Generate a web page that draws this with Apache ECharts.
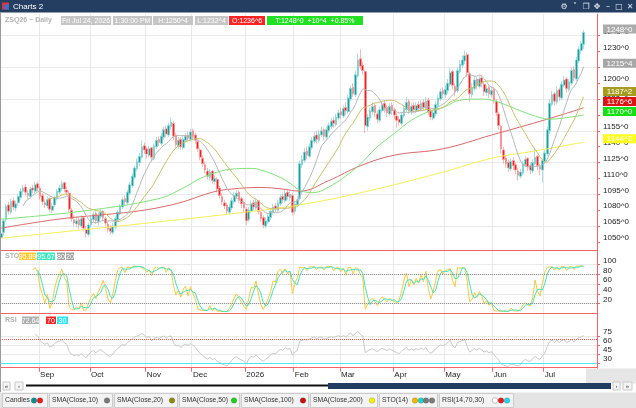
<!DOCTYPE html>
<html>
<head>
<meta charset="utf-8">
<script src="https://cdn.jsdelivr.net/npm/echarts@6/dist/echarts.min.js"></script>
<style>
  html, body { margin: 0; padding: 0; background: #fff; }
  #main { width: 636px; height: 408px; }
</style>
</head>
<body>
<div id="main"></div>
<script>
// ZSQ26 daily bars, Fri Aug 8 2025 .. Fri Jul 24 2026
var opens = [
  1054,1059,1071,1085,1078,1089,1082,1087,1092,1098,1102,1096,1093,1101,1098,1105,
  1101,1094,1087,1084,1091,1080,1085,1091,1097,1100,1106,1099,1096,1080,1071,1067,1071,1065,1073,1062,1057,
  1066,1071,1077,1069,1074,1079,1072,1067,1063,1059,1064,1071,1077,1083,1091,1087,1096,1103,1111,1119,1125,1130,1141,
  1138,1132,1139,1129,1140,1147,1143,1149,1157,1151,1159,1162,1151,1141,1147,1139,1146,1151,1147,
  1155,1151,1145,1137,1129,1123,1117,1111,1117,1107,1109,1101,1093,1087,1085,1078,1082,1088,1093,1097,1091,1087,
  1081,1071,1079,1087,1082,1089,1078,1073,1065,1069,1073,1078,1084,1080,1086,1093,1089,1097,1092,1094,
  1079,1085,1091,1123,1127,1136,1131,1139,1145,1151,1146,1151,1156,1149,1155,1159,1165,1161,1167,
  1173,1169,1177,1173,1185,1196,1189,1207,1223,1217,1211,1159,1167,1173,1179,1171,1165,1174,1181,1177,1171,1179,
  1175,1169,1166,1162,1169,1175,1183,1173,1179,1174,1180,1175,1182,1176,1184,1174,1167,1171,1179,1185,1193,
  1189,1193,1199,1211,1197,1193,1211,1217,1221,1227,1209,1189,1195,1204,1197,1205,1199,1191,1196,1189,
  1194,1183,1171,1159,1137,1129,1125,1119,1127,1123,1117,1112,1115,1123,1129,1122,1117,1124,1131,1121,1118,
  1126,1133,1155,1180,1190,1182,1194,1186,1198,1204,1194,1200,1213,1204,1221,1231,1236.75
];
var highs = [
  1061,1072,1086,1088,1091,1092,1089,1095,1101,1104,1105,1099,1102,1104,1107,1107,
  1103,1096,1090,1093,1092,1087,1094,1100,1104,1108,1107,1102,1098,1082,1075,1074,1073,1075,1074,1065,1068,
  1075,1079,1079,1078,1081,1080,1074,1069,1066,1068,1074,1080,1086,1092,1094,1099,1107,1115,1122,1129,1134,1146,1144,
  1140,1141,1140,1143,1149,1150,1153,1159,1160,1163,1168,1164,1153,1149,1149,1150,1153,1154,1157,
  1157,1153,1147,1139,1132,1126,1120,1119,1118,1113,1111,1103,1096,1090,1087,1086,1092,1097,1099,1099,1093,1089,
  1083,1083,1089,1090,1091,1090,1080,1075,1073,1077,1082,1086,1087,1090,1095,1096,1099,1100,1098,1096,
  1089,1093,1127,1132,1139,1140,1143,1149,1154,1155,1156,1159,1158,1159,1163,1167,1168,1171,1175,
  1177,1179,1182,1189,1198,1200,1212,1228,1232,1220,1213,1171,1177,1182,1181,1174,1178,1183,1184,1179,1181,1182,
  1177,1172,1169,1173,1179,1187,1185,1181,1182,1182,1183,1184,1185,1187,1186,1176,1175,1183,1189,1195,1196,
  1198,1204,1214,1213,1200,1215,1222,1226,1231,1229,1211,1200,1207,1206,1207,1208,1201,1198,1198,1197,
  1196,1185,1173,1161,1140,1132,1128,1129,1130,1125,1120,1119,1127,1131,1130,1125,1128,1139,1132,1124,1129,
  1137,1159,1185,1193,1192,1197,1196,1202,1207,1206,1204,1215,1216,1225,1235,1240,1250.5
];
var lows = [
  1050,1056,1069,1076,1076,1080,1079,1084,1090,1095,1094,1090,1091,1096,1096,1098,
  1090,1085,1082,1082,1078,1077,1083,1089,1095,1098,1097,1094,1078,1069,1065,1064,1062,1063,1060,1054,1055,
  1064,1069,1067,1066,1072,1070,1065,1059,1057,1057,1062,1069,1075,1081,1085,1085,1094,1101,1109,1117,1122,1128,1133,
  1129,1130,1126,1127,1138,1141,1141,1147,1149,1149,1156,1146,1139,1138,1137,1137,1144,1145,1145,
  1147,1143,1135,1127,1121,1115,1109,1108,1105,1104,1097,1091,1085,1081,1076,1076,1080,1086,1091,1087,1082,1078,
  1066,1069,1077,1080,1080,1076,1069,1063,1063,1067,1071,1076,1078,1078,1084,1087,1087,1090,1089,1075,
  1076,1083,1089,1120,1125,1128,1129,1137,1143,1143,1144,1149,1146,1147,1153,1157,1158,1159,1165,
  1166,1167,1170,1171,1183,1187,1187,1205,1213,1208,1153,1155,1164,1170,1168,1162,1163,1172,1172,1168,1169,1170,
  1166,1158,1160,1160,1167,1173,1171,1170,1172,1172,1173,1173,1174,1174,1170,1165,1165,1169,1177,1183,1186,
  1186,1190,1197,1194,1188,1191,1209,1214,1218,1206,1182,1186,1193,1194,1195,1196,1188,1188,1186,1186,
  1181,1169,1156,1134,1124,1120,1116,1117,1118,1114,1108,1110,1113,1121,1117,1114,1115,1122,1118,1113,1106,
  1124,1131,1152,1178,1179,1180,1183,1184,1196,1191,1192,1198,1202,1202,1219,1228,1232.5
];
var closes = [
  1058,1070,1084,1079,1088,1083,1086,1093,1098,1101,1097,1094,1100,1099,1104,1101,
  1093,1088,1085,1090,1081,1084,1092,1098,1101,1105,1100,1097,1081,1072,1068,1070,1066,1072,1063,1058,1066,
  1072,1076,1070,1075,1078,1073,1068,1062,1060,1065,1072,1078,1084,1090,1088,1097,1104,1112,1120,1126,1131,1140,1137,
  1133,1138,1130,1141,1146,1144,1150,1156,1152,1160,1163,1150,1142,1146,1140,1147,1150,1148,1154,
  1150,1146,1138,1130,1124,1118,1112,1116,1108,1110,1100,1094,1088,1084,1079,1083,1089,1094,1096,1090,1086,1082,
  1070,1080,1086,1083,1088,1079,1072,1066,1070,1074,1079,1083,1081,1087,1092,1090,1096,1093,1095,1078,
  1086,1090,1124,1128,1135,1132,1140,1146,1150,1147,1152,1155,1150,1156,1160,1164,1162,1168,1172,
  1170,1176,1174,1186,1195,1190,1208,1222,1216,1212,1160,1168,1174,1178,1172,1166,1175,1180,1176,1172,1178,1174,
  1170,1165,1163,1170,1176,1182,1174,1178,1175,1179,1176,1181,1177,1183,1173,1168,1172,1180,1186,1192,1190,
  1194,1200,1210,1198,1192,1212,1218,1222,1226,1210,1190,1196,1203,1198,1204,1200,1192,1195,1190,1193,
  1184,1172,1160,1138,1128,1124,1120,1126,1122,1118,1113,1116,1124,1128,1121,1118,1125,1130,1122,1119,1127,
  1134,1156,1181,1189,1183,1193,1187,1199,1203,1195,1201.5,1212,1205,1222,1232,1237.5,1248
];

// longer moving averages: [bar index, value]
var sma50Pts = [[0,1071.5],[33,1079],[65,1091],[75,1101],[82,1110],[89,1116],[96,1119],[103,1119.5],[107,1118],
  [114,1112],[119,1105.5],[123,1099],[128,1096.5],[135,1102],[146,1119.5],[155,1140],[162,1152.5],[169,1165],
  [176,1173],[183,1178],[189,1184],[197,1185],[202,1184],[208,1179.5],[215,1173],[222,1167.5],[226,1166],
  [233,1167.5],[240,1170]];
var sma100Pts = [[0,1063],[13,1068],[27,1072.5],[41,1075.5],[54,1078.5],[65,1082.5],[75,1088],[87,1097],[95,1100],
  [107,1101.5],[116,1100],[123,1098],[135,1108],[148,1122],[162,1132],[182,1138],[202,1151],[225,1166],[240,1176.75]];
var sma200Pts = [[0,1053.5],[40,1063],[65,1069],[100,1078],[123,1085],[150,1097.5],[182,1116],[202,1129],
  [220,1136],[240,1144.25]];

var priceTicks = [1050,1065,1080,1095,1110,1125,1140,1155,1170,1185,1200,1215,1230,1245];
var priceGrid = [1065,1095,1125,1155,1185,1215,1245];
var stoTicks = [20,40,60,80,100];
var rsiTicks = [30,45,60,75];
var monthNames = ['Jan','Feb','Mar','Apr','May','Jun','Jul','Aug','Sep','Oct','Nov','Dec'];
var holidays = ['2025-09-01','2025-11-27','2025-12-25','2026-01-01','2026-01-19','2026-02-16',
  '2026-04-03','2026-05-25','2026-06-19','2026-07-03'];
var stoValues = ['95.89', '95.67', '80', '20'];
var rsiValues = ['72.64', '70', '30'];

// trading days
var dates = [];
for (var t = Date.UTC(2025, 7, 8); t <= Date.UTC(2026, 6, 24); t += 864e5) {
  var d = new Date(t), wd = d.getUTCDay(), s = d.toISOString().slice(0, 10);
  if (wd === 0 || wd === 6 || holidays.indexOf(s) >= 0) continue;
  dates.push(s);
}
var n = closes.length;
var cats = dates.slice(0, n).concat(['p1','p2','p3','p4','p5']);

function monthStart(i) {
  return i > 0 && i < n && dates[i].slice(5, 7) !== dates[i - 1].slice(5, 7);
}
function monthLabel(i) {
  var m = +dates[i].slice(5, 7) - 1;
  return m === 0 ? dates[i].slice(0, 4) : monthNames[m];
}

var ohlc = closes.map(function (c, i) { return [opens[i], c, lows[i], highs[i]]; });

function sma(arr, k) {
  return arr.map(function (v, i) {
    if (i < k - 1) return null;
    var s = 0;
    for (var j = i - k + 1; j <= i; j++) s += arr[j];
    return +(s / k).toFixed(2);
  });
}
var sma10 = sma(closes, 10);
var sma20 = sma(closes, 20);

// stochastic 14 (%K) and its 3-bar average (%D)
var stoK = closes.map(function (c, i) {
  if (i < 13) return null;
  var hh = Math.max.apply(null, highs.slice(i - 13, i + 1));
  var ll = Math.min.apply(null, lows.slice(i - 13, i + 1));
  return +(100 * (c - ll) / (hh - ll)).toFixed(2);
});
var stoD = stoK.map(function (v, i) {
  return i < 15 ? null : +((stoK[i] + stoK[i - 1] + stoK[i - 2]) / 3).toFixed(2);
});

// RSI 14, Wilder smoothing
var rsi = [null];
var ag = 0, al = 0;
for (var i = 1; i < n; i++) {
  var ch = closes[i] - closes[i - 1];
  var g = Math.max(ch, 0), l = Math.max(-ch, 0);
  if (i <= 14) {
    ag += g / 14; al += l / 14;
    rsi.push(i === 14 ? +(100 - 100 / (1 + ag / al)).toFixed(2) : null);
  } else {
    ag = (ag * 13 + g) / 14; al = (al * 13 + l) / 14;
    rsi.push(+(100 - 100 / (1 + ag / al)).toFixed(2));
  }
}

var FONT = '"Liberation Sans", Arial, sans-serif';
var RED = '#f36464';
var GRIDC = '#e9e9e9';
var UP = '#14a0a0', DN = '#f41e1e';

function xAx(grid, labels) {
  return {
    type: 'category', gridIndex: grid, data: cats, boundaryGap: true,
    axisLine: { show: true, lineStyle: { color: RED, width: 1 } },
    axisTick: { show: labels, interval: monthStart, length: 4, lineStyle: { color: RED } },
    axisLabel: {
      show: labels, interval: monthStart, formatter: function (v, idx) { return monthLabel(idx); },
      fontSize: 8, color: '#222', fontFamily: FONT, align: 'left', margin: 3
    },
    splitLine: { show: true, interval: monthStart, lineStyle: { color: GRIDC, width: 1 } }
  };
}
function yAx(grid, min, max, ticks, fmt, split) {
  return {
    type: 'value', gridIndex: grid, position: 'right', min: min, max: max,
    axisLine: { show: true, lineStyle: { color: RED, width: 1 } },
    axisTick: { show: true, length: 3, lineStyle: { color: RED }, customValues: ticks },
    axisLabel: {
      customValues: ticks, formatter: fmt, fontSize: 8, color: '#222', fontFamily: FONT,
      verticalAlign: 'bottom', lineHeight: 8, margin: 6
    },
    splitLine: { show: split, lineStyle: { color: GRIDC, width: 1 } }
  };
}

function line(name, data, color, xi, yi, extra) {
  var s = {
    name: name, type: 'line', xAxisIndex: xi, yAxisIndex: yi, data: data,
    showSymbol: false, symbol: 'none', connectNulls: false,
    lineStyle: { color: color, width: 1 }, z: 3, silent: true
  };
  for (var k in extra || {}) s[k] = extra[k];
  return s;
}

var chart = echarts.init(document.getElementById('main'), null, { renderer: 'canvas' });

var option = {
  animation: false,
  backgroundColor: '#fff',
  grid: [
    { left: 0, width: 597, top: 14, height: 236 },
    { left: 0, width: 597, top: 250, height: 63.5 },
    { left: 0, width: 597, top: 313.5, height: 54.2 }
  ],
  xAxis: [xAx(0, false), xAx(1, false), xAx(2, true)],
  yAxis: [
    yAx(0, 1042.4, 1265.4, priceTicks, function (v) { return v + '^0'; }, false),
    {
      type: 'value', gridIndex: 0, position: 'right', min: 1042.4, max: 1265.4,
      axisLine: { show: false }, axisTick: { show: false, customValues: priceGrid },
      axisLabel: { show: false }, splitLine: { show: true, lineStyle: { color: GRIDC, width: 1 } }
    },
    yAx(1, 0, 130, stoTicks, function (v) { return String(v); }, true),
    yAx(2, 22, 112.7, rsiTicks, function (v) { return String(v); }, true)
  ],
  series: [
    {
      name: 'Candles', type: 'candlestick', xAxisIndex: 0, yAxisIndex: 0, data: ohlc,
      barWidth: 2.2, silent: true, z: 2,
      itemStyle: { color: UP, color0: DN, borderColor: '#86d2d2', borderColor0: '#f79a9a', borderWidth: 0.7 }
    },
    line('SMA(Close,200)', sma200Pts, '#f6ef55', 0, 0, { smooth: 0.4 }),
    line('SMA(Close,100)', sma100Pts, '#d96a6a', 0, 0, { smooth: 0.4 }),
    line('SMA(Close,50)', sma50Pts, '#80e27a', 0, 0, { smooth: 0.4 }),
    line('SMA(Close,20)', sma20, '#cbbf6c', 0, 0),
    line('SMA(Close,10)', sma10, '#b7b7b7', 0, 0),
    line('%K', stoK, '#f9c93c', 1, 2, {
      markLine: {
        silent: true, symbol: 'none', label: { show: false },
        lineStyle: { color: '#8f8f8f', type: 'dotted', width: 1 },
        data: [{ yAxis: 80 }, { yAxis: 20 }]
      }
    }),
    line('%D', stoD, '#3fe3bd', 1, 2),
    line('RSI', rsi, '#c8c8c8', 2, 3, {
      markLine: {
        silent: true, symbol: 'none', label: { show: false },
        data: [
          { yAxis: 70, lineStyle: { color: '#ff4d4d', type: 'dotted', width: 1 } },
          { yAxis: 30, lineStyle: { color: '#46e8f2', type: 'solid', width: 1 } }
        ]
      }
    })
  ]
};
chart.setOption(option);

// ---- window chrome, headers, value boxes, scroller, legend ----
var gfx = [];
function rect(x, y, w, h, fill, stroke) {
  gfx.push({ type: 'rect', z: 100, silent: true, shape: { x: x, y: y, width: w, height: h },
    style: { fill: fill, stroke: stroke || null, lineWidth: 1 } });
}
function txt(x, y, s, fill, font, align) {
  gfx.push({ type: 'text', z: 101, silent: true, x: x, y: y,
    style: { text: s, fill: fill, font: font || ('8px ' + FONT), align: align || 'left', verticalAlign: 'middle' } });
}
function tag(x, y, w, h, bg, s, font) {
  rect(x, y, w, h, bg);
  txt(x + w / 2, y + h / 2 + 0.5, s, '#fff', font || ('7px ' + FONT), 'center');
}
function dot(cx, cy, fill, stroke) {
  gfx.push({ type: 'circle', z: 101, silent: true, shape: { cx: cx, cy: cy, r: 2.8 },
    style: { fill: fill, stroke: stroke || 'rgba(0,0,0,0.25)', lineWidth: 0.6 } });
}
function seg(x1, y1, x2, y2, color, w) {
  gfx.push({ type: 'line', z: 100, silent: true, shape: { x1: x1, y1: y1, x2: x2, y2: y2 },
    style: { stroke: color, lineWidth: w || 1 } });
}

// title bar
rect(0, 0, 636, 12.5, '#243e62');
rect(2, 2.5, 7, 7, '#d33b3b');
rect(4.5, 4.5, 4.5, 5, '#3b6fd3');
txt(13, 6.5, 'Charts 2', '#ffffff', '8px ' + FONT);
var icons = [['\u2699', 564], ['\u02c5', 575], ['\u2750', 586], ['\u2725', 597], ['\u2013', 608], ['\u25a1', 619], ['\u2715', 630]];
icons.forEach(function (ic) { txt(ic[1], 6.5, ic[0], '#dfe6ef', '8px "DejaVu Sans"', 'center'); });
seg(0.5, 12.5, 0.5, 392, '#9a9a9a');

// price header
txt(5, 20.5, 'ZSQ26 ~ Daily', '#b3b3b3', 'bold 7px ' + FONT);
tag(61, 16, 50, 9, '#c6c6c6', 'Fri Jul 24, 2026');
tag(113, 16, 39, 9, '#c6c6c6', '1:30:00 PM');
tag(153, 16, 40, 9, '#c6c6c6', 'H:1250^4');
tag(195, 16, 33, 9, '#c6c6c6', 'L:1232^4');
tag(229, 16, 36, 9, '#ff2424', 'O:1236^6');
tag(267, 16, 96, 9, '#22e022', 'T:1248^0  +10^4  +0.85%');

// STO / RSI headers
txt(5, 256.5, 'STO', '#b0b0b0', 'bold 7px ' + FONT);
tag(19, 252.5, 17, 7.5, '#ffc933', stoValues[0]);
tag(37, 252.5, 18, 7.5, '#3ee6c2', stoValues[1]);
tag(57, 252.5, 8, 7.5, '#a3a3a3', stoValues[2]);
tag(66, 252.5, 8, 7.5, '#a3a3a3', stoValues[3]);
txt(5, 320.5, 'RSI', '#b0b0b0', 'bold 7px ' + FONT);
tag(22, 316.5, 17, 7.5, '#b0b0b0', rsiValues[0]);
tag(46, 316.5, 10, 7.5, '#ff2424', rsiValues[1]);
tag(57, 316.5, 11, 7.5, '#2de6f0', rsiValues[2]);

// value boxes on the price axis
function eighths(v) {
  var w = Math.floor(v);
  return w + '^' + Math.round((v - w) * 8);
}
var boxes = [
  { v: closes[n - 1], bg: '#ababab' },
  { v: sma10[n - 1], bg: '#a6a6a6' },
  { v: sma20[n - 1], bg: '#a59c1e' },
  { v: sma100Pts[sma100Pts.length - 1][1], bg: '#dd1414' },
  { v: sma50Pts[sma50Pts.length - 1][1], bg: '#14e014' },
  { v: sma200Pts[sma200Pts.length - 1][1], bg: '#ffff1e' }
];
boxes.forEach(function (b) { b.bottom = chart.convertToPixel({ yAxisIndex: 0 }, b.v) + 1; });
boxes.sort(function (a, b) { return b.bottom - a.bottom; });
var prevTop = 1e9;
boxes.forEach(function (b) {
  if (b.bottom > prevTop - 1) b.bottom = prevTop - 1;
  prevTop = b.bottom - 9;
  tag(603, b.bottom - 9, 33, 9, b.bg, eighths(b.v), '8px ' + FONT);
});

// blank block at the end of the date row
rect(586, 368.5, 50, 15, '#e6e6e6');

// scroller
rect(3, 382, 7, 8, '#f4f4f4', '#c8c8c8');
txt(6.5, 386, '\u00ab', '#333', '6px ' + FONT, 'center');
rect(15, 382, 8, 8, '#f4f4f4', '#c8c8c8');
txt(19, 386, '\u2039', '#333', '6px ' + FONT, 'center');
seg(26, 385.5, 328, 385.5, '#111', 2);
rect(328, 383, 283, 6, '#223d62');
rect(613, 382, 7, 8, '#f4f4f4', '#c8c8c8');
txt(616.5, 386, '\u203a', '#333', '6px ' + FONT, 'center');
rect(623, 382, 9, 8, '#f4f4f4', '#c8c8c8');
txt(627.5, 386, '\u00bb', '#333', '6px ' + FONT, 'center');

// legend strip
rect(0, 392.5, 636, 15.5, '#e4e4e4');
var legend = [
  { x0: 2, x1: 47, label: 'Candles', dots: [[34, '#0e8f8f'], [40, '#e81c1c']] },
  { x0: 49, x1: 112, label: 'SMA(Close,10)', dots: [[107, '#7a7a7a']] },
  { x0: 114, x1: 177, label: 'SMA(Close,20)', dots: [[172, '#8f8a0e']] },
  { x0: 179, x1: 239, label: 'SMA(Close,50)', dots: [[234, '#1fd11f']] },
  { x0: 241, x1: 308, label: 'SMA(Close,100)', dots: [[303, '#c81414']] },
  { x0: 310, x1: 377, label: 'SMA(Close,200)', dots: [[372, '#f2f20a']] },
  { x0: 379, x1: 437, label: 'STO(14)', dots: [[415, '#f2b705'], [421, '#1fd6c4'], [426, '#7a7a7a'], [432, '#7a7a7a']] },
  { x0: 439, x1: 513, label: 'RSI(14,70,30)', dots: [[495, '#ffffff'], [501, '#e81c1c'], [507, '#22d6e6']] }
];
legend.forEach(function (it) {
  rect(it.x0 + 0.5, 393.5, it.x1 - it.x0, 14, '#f3f3f3', '#cbcbcb');
  txt(it.x0 + 3, 400.5, it.label, '#333', '6.8px ' + FONT);
  it.dots.forEach(function (dd) { dot(dd[0], 400.5, dd[1], dd[1] === '#ffffff' ? '#999' : null); });
});

chart.setOption({ graphic: { elements: gfx } });
</script>
</body>
</html>
